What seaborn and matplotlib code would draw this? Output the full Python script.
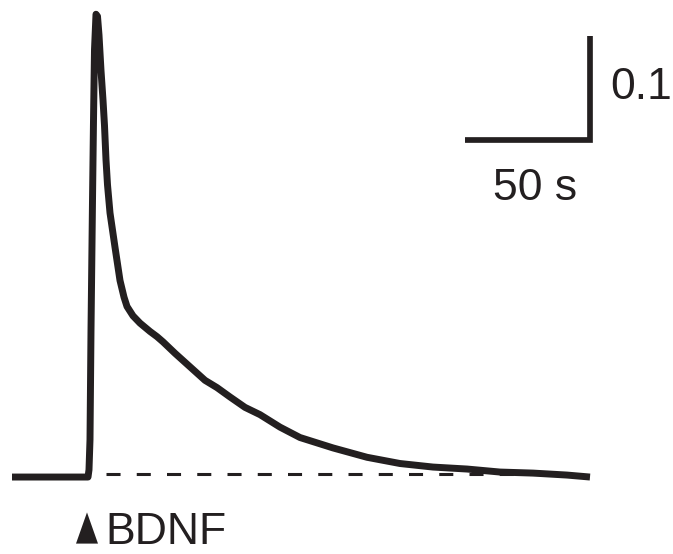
import matplotlib
matplotlib.use("Agg")
import matplotlib.pyplot as plt
import seaborn as sns
import pandas as pd
from matplotlib.patches import Polygon

# Fura-2 ratio change (relative to baseline) after BDNF application
time_s = [0.0, 30.4, 30.8, 31.2, 31.6, 32.2, 32.6, 33.0, 33.6, 34.2, 34.8, 35.6,
          36.4, 37.0, 37.6, 38.2, 39.2, 41.2, 43.2, 44.8, 46.0, 48.4, 51.2, 55.2,
          58.0, 60.4, 65.2, 71.2, 77.2, 82.0, 87.2, 93.2, 99.2, 107.2, 115.2,
          128.4, 142.0, 155.2, 168.4, 182.0, 195.2, 208.4, 222.0, 231.2]
delta_ratio = [0.0, 0.0, 0.007, 0.036, 0.141, 0.266, 0.343, 0.411, 0.445, 0.443,
               0.425, 0.391, 0.3625, 0.338, 0.305, 0.281, 0.254, 0.221, 0.189,
               0.173, 0.164, 0.155, 0.148, 0.140, 0.135, 0.130, 0.119, 0.106,
               0.093, 0.086, 0.077, 0.067, 0.060, 0.048, 0.038, 0.028, 0.019,
               0.013, 0.0096, 0.0077, 0.0048, 0.0038, 0.0019, 0.0]

baseline_level = 0.003
baseline_span = [37.6, 231.2]
stim_time = 30.0
stim_label = "BDNF"

scale_time = 50      # s
scale_ratio = 0.1
scale_time_label = "50 s"
scale_ratio_label = "0.1"

ink = "#231f20"

sns.set_theme(style="white")
plt.rcParams["font.family"] = ["Liberation Sans", "DejaVu Sans"]

fig = plt.figure(figsize=(6.73, 5.54), dpi=100)
ax = fig.add_axes([0, 0, 1, 1])

df = pd.DataFrame({"t": time_s, "ratio": delta_ratio})
sns.lineplot(data=df, x="t", y="ratio", ax=ax, color=ink, lw=5.0,
             solid_joinstyle="round", solid_capstyle="butt", sort=False)

# baseline reference
ax.plot(baseline_span, [baseline_level, baseline_level], color=ink, lw=2.2,
        dashes=(4.6, 5.3))

# scale bar
sb_x0 = 181.2
sb_y0 = 0.3245
ax.plot([sb_x0, sb_x0 + scale_time, sb_x0 + scale_time],
        [sb_y0, sb_y0, sb_y0 + scale_ratio],
        color=ink, lw=4.1, solid_capstyle="butt", solid_joinstyle="miter")
ax.text(sb_x0 + scale_time + 8.0, sb_y0 + 0.039, scale_ratio_label,
        fontsize=32, color=ink, ha="left", va="baseline")
ax.text(sb_x0 + scale_time / 2 + 3.0, 0.266, scale_time_label,
        fontsize=32, color=ink, ha="center", va="baseline")

# stimulus marker
tri = Polygon([(stim_time - 4.4, -0.064), (stim_time + 4.4, -0.064),
               (stim_time, -0.034)], closed=True, color=ink, lw=0)
ax.add_patch(tri)
ax.text(stim_time + 7.4, -0.064, stim_label, fontsize=32, color=ink,
        ha="left", va="baseline")

ax.set_xlim(-4.8, 264.4)
ax.set_ylim(-0.074, 0.4587)
ax.set_axis_off()
if ax.get_legend():
    ax.get_legend().remove()

fig.savefig("out.png", dpi=100)
